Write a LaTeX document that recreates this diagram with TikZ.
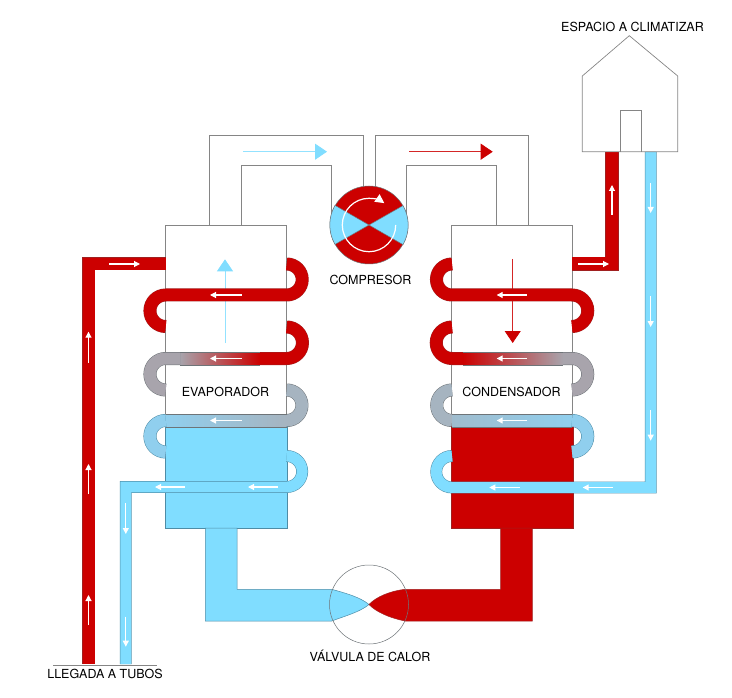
\documentclass[tikz,border=0pt]{standalone}
\usepackage{fontspec}
\setmainfont{TeX Gyre Heros}
\usetikzlibrary{arrows.meta, positioning}

\definecolor{hotred}{HTML}{CC0000}
\definecolor{hotedge}{HTML}{A02020}
\definecolor{coldblue}{HTML}{80DDFF}
\definecolor{coldedge}{HTML}{4E8CA6}
\definecolor{midgray}{HTML}{A8A4AC}
\definecolor{midblue}{HTML}{A6B4C0}
\definecolor{pipeblue}{HTML}{90CFEE}
\definecolor{pipeline}{HTML}{6E7478}
\definecolor{wallgray}{HTML}{858585}

% shaded straight run of a pipe: x from, x to, y, left colour, right colour
\newcommand{\shadedrun}[5]{
    \shade[left color=#4, right color=#5] (#1,#3-6.3) rectangle (#2,#3+6.3);
    \draw[pipeline, line width=0.5pt] (#1,#3-6.3) -- (#2,#3-6.3) (#1,#3+6.3) -- (#2,#3+6.3);
}

\begin{document}
\begin{tikzpicture}[
    x=1pt, y=-1pt,
    wall/.style={draw=wallgray, line width=0.7pt},
    exchanger/.style={wall, minimum width=121pt, minimum height=303pt, inner sep=0pt},
    pipe/.style={draw=pipeline, line width=0.5pt, double=#1, double distance=12pt},
    hotpipe/.style={pipe=hotred, draw=hotedge},
    coldpipe/.style={pipe=coldblue, draw=coldedge, double distance=10.8pt},
    softpipe/.style={pipe=pipeblue, draw=coldedge},
    pipeblock/.style={fill=#1, draw=pipeline, line width=0.5pt},
    label/.style={font=\fontsize{12.5}{15}\selectfont, inner sep=0pt},
    flow/.style={draw=white, line width=1.1pt, -{Triangle[length=6pt, width=6pt]}},
    stream/.style={draw=#1!85, line width=0.8pt, -{Triangle[length=12pt, width=16pt, color=#1, fill=#1]}}
]
    \useasboundingbox (0,0) rectangle (732,698);

    % exchangers
    \node[exchanger] (evapbox) at (226.2,376.5) {};
    \node[exchanger] (condbox) at (512,376.5) {};
    \fill[pipeblock=coldblue, draw=coldedge] (evapbox.west |- 0,426) rectangle (evapbox.south east);
    \fill[pipeblock=hotred, draw=hotedge] (condbox.west |- 0,426) rectangle (condbox.south east);

    % ducts to the compressor
    \draw[wall] (209.5,225) -- (209.5,135) -- (363,135) -- (363,200);
    \draw[wall] (241,225) -- (241,165.7) -- (331,165.7) -- (331,215);
    \draw[wall] (375.5,200) -- (375.5,135) -- (528.3,135) -- (528.3,225);
    \draw[wall] (406.7,215) -- (406.7,165.7) -- (496.7,165.7) -- (496.7,225);
    \draw[stream=coldblue] (243,151.7) -- (327,151.7);
    \draw[stream=hotred] (409,151.7) -- (492.7,151.7);
    \draw[stream=coldblue] (225,343) -- (225,259.3);
    \draw[stream=hotred] (512.7,259) -- (512.7,343);

    % compressor
    \node[circle, draw=pipeline, fill=hotred, line width=0.5pt, minimum size=78pt, inner sep=0pt] (compresor) at (369,225) {};
    \draw[pipeblock=coldblue] (compresor.center) -- (compresor.-30) arc (30:-30:39) -- cycle;
    \draw[pipeblock=coldblue] (compresor.center) -- (compresor.150) arc (210:150:39) -- cycle;
    \draw[white, line width=1.2pt, -{Triangle[length=9pt, width=9pt]}] (395.7,225) arc (0:305:26.7);

    % evaporator coil
    \draw[hotpipe] (165.7,264) -- (88.5,264) -- (88.5,664);
    \draw[hotpipe] (286.7,264) arc (-90:90:15.5) -- (165.7,295) arc (-90:-270:15.75);
    \draw[hotpipe] (286.7,327) arc (-90:90:15.75) -- (260,358.5);
    \shadedrun{180}{260}{358.5}{midgray}{hotred}
    \draw[pipe=midgray] (180,358.5) -- (165.7,358.5) arc (-90:-270:15.75);
    \draw[pipe=midblue] (286.7,390) arc (-90:90:15.25);
    \shadedrun{165.7}{286.7}{420.5}{pipeblue}{midblue}
    \draw[softpipe] (165.7,420.5) arc (-90:-270:15.75);
    \draw[coldpipe] (286.7,456) arc (-90:90:15.5) -- (125.8,487) -- (125.8,664);

    % condenser coil
    \draw[hotpipe, double distance=12.8pt] (572,263.7) -- (612,263.7) -- (612,152);
    \draw[hotpipe] (452,264) arc (-90:-270:15.5) -- (572,295) arc (-90:90:15.75);
    \draw[hotpipe] (452,327) arc (-90:-270:15.75) -- (463,358.5);
    \shadedrun{463}{563}{358.5}{hotred}{midgray}
    \draw[pipe=midgray] (563,358.5) -- (572,358.5) arc (-90:90:15.75);
    \draw[pipe=midblue] (452,390) arc (-90:-270:15.25);
    \shadedrun{452}{572}{420.5}{midblue!70!pipeblue}{pipeblue}
    \draw[softpipe] (572,420.5) arc (-90:90:15.75);
    \draw[coldpipe] (650.7,152) -- (650.7,487.5) -- (452,487.5) arc (90:270:15.75);

    % valve
    \node[circle, fill=white, minimum size=79pt, inner sep=0pt] (valvula) at (369,604.5) {};
    \draw[pipeblock=coldblue, draw=coldedge] (205.3,528) -- (205.3,621) -- (331.7,621) .. controls (345,616) and (360,612) .. (valvula.center)
        .. controls (360,597) and (345,593) .. (331.7,589.3) -- (237,589.3) -- (237,528) -- cycle;
    \draw[pipeblock=hotred, draw=hotedge] (532.3,528) -- (532.3,621) -- (405,621) .. controls (390,618) and (376,612) .. (valvula.center)
        .. controls (376,597) and (390,591) .. (405,589.3) -- (500.7,589.3) -- (500.7,528) -- cycle;
    \draw[pipeline, line width=0.5pt] (valvula.center) circle (39.5);

    % small arrows inside the pipes
    \foreach \xa/\ya/\xb/\yb in {
        241.7/295/210/295, 241.7/358.5/210/358.5, 241.7/420.5/210/420.5,
        185/487/155/487, 278/487/248/487, 109/264/140/264,
        88.5/362.7/88.5/331.7, 88.5/494/88.5/464, 88.5/625/88.5/595,
        125.8/503/125.8/534, 125.8/616.7/125.8/646.7,
        526.7/295/496.7/295, 526.7/358.5/496.7/358.5, 526.7/420.5/496.7/420.5,
        520/487.5/489.3/487.5, 613/487.5/582.7/487.5, 578/264/609/264,
        612/215/612/185, 650.7/183/650.7/213, 650.7/296/650.7/327, 650.7/410/650.7/440.7}
        \draw[flow] (\xa,\ya) -- (\xb,\yb);

    % house
    \draw[wall] (582.3,151.7) -- (582.3,76) -- (629.3,35.7) -- (677.7,76) -- (677.7,151.7) -- cycle;
    \draw[wall] (620,151.7) -- (620,110.7) -- (641.3,110.7) -- (641.3,151.7);
    \draw[wall] (53.3,665) -- (157,665);

    % labels
    \node[label] (espacio) at (632.5,26.7) {ESPACIO A CLIMATIZAR};
    \node[label] (compresorlabel) at (370.5,280) {COMPRESOR};
    \node[label] (evaporador) at (225.5,391.7) {EVAPORADOR};
    \node[label] (condensador) at (511.5,391.7) {CONDENSADOR};
    \node[label] (valvulalabel) at (370,656) {VÁLVULA DE CALOR};
    \node[label] (llegada) at (105,674) {LLEGADA A TUBOS};
\end{tikzpicture}
\end{document}
